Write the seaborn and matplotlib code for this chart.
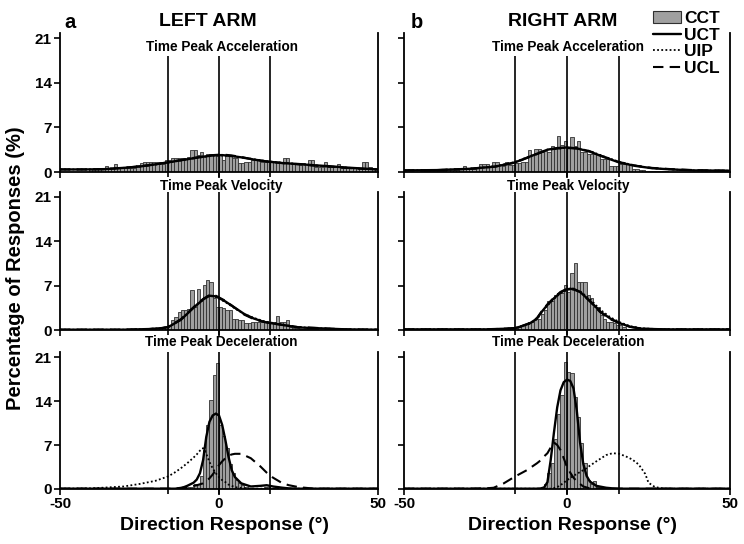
import numpy as np
import pandas as pd
import matplotlib
matplotlib.use("Agg")
import matplotlib.pyplot as plt
import seaborn as sns
from matplotlib.patches import Patch
from matplotlib.lines import Line2D

# ---- data (percentage of responses per 1 deg bin) ----
# bars start at the given left bin edge, one value per degree
acc_left_start = -41
acc_left_bars = [0.4, 0.4, 0.4, 0.5, 0.6, 0.9, 0.6, 0.6, 1.2, 0.7, 0.6, 0.7, 0.7, 0.6, 0.7,
                 1.1, 1.4, 1.6, 1.6, 1.6, 1.5, 1.5, 1.5, 1.3, 1.9, 1.9, 2.2, 2.2, 2.2, 2.2,
                 2.1, 2.3, 3.5, 3.5, 2.7, 3.1, 2.5, 2.8, 2.8, 2.9, 2.7, 2.7, 1.9, 2.7, 2.7,
                 2.2, 2.2, 1.4, 1.4, 1.6, 1.6, 1.9, 1.9, 1.9, 1.6, 1.6, 1.7, 1.6, 1.5, 1.6,
                 1.5, 2.2, 2.2, 1.4, 1.4, 1.3, 1.4, 1.4, 1.3, 1.9, 1.9, 0.8, 0.8, 0.8, 1.5,
                 0.8, 0.8, 0.8, 1.3, 0.7, 0.7, 0.7, 0.8, 0.7, 0.6, 0.7, 1.5, 1.5, 0.8, 0.5, 0.4]
acc_right_start = -45
acc_right_bars = [0.1, 0.1, 0.1, 0.1, 0.1, 0.2, 0.2, 0.2, 0.3, 0.3, 0.3, 0.3, 0.4, 0.9, 0.4,
                  0.4, 0.5, 0.6, 1.2, 1.2, 1.3, 1.0, 1.6, 1.5, 1.1, 1.0, 1.6, 1.1, 1.1, 1.4,
                  1.4, 1.5, 1.6, 3.4, 2.7, 3.6, 3.6, 3.2, 3.3, 3.2, 4.0, 3.8, 5.6, 4.3, 4.8,
                  3.7, 5.5, 4.0, 4.8, 3.2, 3.2, 2.9, 2.9, 2.8, 2.8, 2.0, 2.0, 2.0, 1.0, 1.0,
                  1.0, 1.2, 1.2, 1.2, 1.2, 0.5, 0.4, 0.3, 0.3, 0.2, 0.1, 0.1, 0.1, 0.1, 0.1, 0.1]
vel_left_start = -24
vel_left_bars = [0.1, 0.1, 0.2, 0.2, 0.3, 0.3, 0.4, 0.5, 0.8, 1.6, 2.1, 2.8, 3.2, 3.2, 3.3,
                 6.3, 3.7, 6.4, 4.5, 7.1, 7.9, 7.5, 5.0, 3.7, 3.7, 3.4, 3.2, 3.2, 1.8, 1.8,
                 1.6, 1.6, 1.05, 1.05, 1.3, 1.3, 1.3, 1.3, 1.3, 1.3, 1.3, 1.3, 2.2, 1.3, 1.3,
                 1.6, 0.4, 0.3, 0.3, 0.2, 0.2, 0.1, 0.1, 0.1, 0.1]
vel_right_start = -25
vel_right_bars = [0.1, 0.1, 0.1, 0.1, 0.1, 0.2, 0.2, 0.2, 0.3, 0.3, 0.5, 0.8, 1.0, 1.3, 1.3,
                  1.8, 1.8, 2.5, 3.2, 4.5, 4.5, 5.5, 5.8, 5.8, 7.1, 6.0, 9.0, 10.5, 7.6, 7.6,
                  7.6, 5.5, 5.0, 3.7, 3.7, 2.4, 1.8, 1.3, 1.3, 1.05, 0.8, 0.8, 0.4, 0.2, 0.2,
                  0.2, 0.1, 0.1, 0.1, 0.1, 0.1]
dec_left_start = -12
dec_left_bars = [0.2, 0.2, 0.3, 0.3, 0.8, 0.8, 2.0, 6.2, 10.2, 14.1, 18.1, 20.0, 10.2, 8.5,
                 6.5, 4.0, 2.5, 1.4, 0.9, 0.6, 0.3, 0.2, 0.2, 0.1, 0.1, 0.2, 0.3, 0.3, 0.2, 0.1]
dec_right_start = -9
dec_right_bars = [0.1, 0.2, 0.8, 2.5, 4.2, 8.0, 12.0, 15.0, 20.2, 18.6, 18.4, 14.7, 11.5,
                  7.3, 4.1, 1.4, 0.8, 1.2, 0.3, 0.2, 0.1]

# model curves (UCT solid, UIP dotted, UCL dashed)
acc_left_x = [-50, -42, -36, -30, -25, -20, -15, -10, -5, -2, 1, 4, 7, 11, 15, 20, 25, 30, 35, 40, 45, 50]
acc_left_uct = [0.4, 0.4, 0.45, 0.65, 0.85, 1.2, 1.6, 2.0, 2.4, 2.6, 2.65, 2.5, 2.3, 1.95, 1.65, 1.4, 1.25, 1.05, 0.9, 0.7, 0.55, 0.4]
acc_left_uip = [0.4, 0.4, 0.45, 0.65, 0.85, 1.15, 1.55, 2.0, 2.35, 2.55, 2.6, 2.5, 2.3, 2.0, 1.7, 1.45, 1.25, 1.05, 0.85, 0.7, 0.5, 0.4]
acc_left_ucl = [0.4, 0.4, 0.45, 0.65, 0.9, 1.2, 1.6, 2.05, 2.45, 2.65, 2.75, 2.6, 2.35, 1.95, 1.65, 1.4, 1.2, 1.0, 0.85, 0.65, 0.5, 0.4]

acc_right_x = [-50, -40, -30, -22, -16, -10, -6, -3, 0, 3, 7, 11, 16, 21, 26, 32, 39, 50]
acc_right_uct = [0.25, 0.3, 0.5, 0.85, 1.5, 2.7, 3.5, 3.75, 3.85, 3.7, 3.2, 2.4, 1.5, 0.95, 0.6, 0.4, 0.25, 0.2]
acc_right_uip = [0.25, 0.3, 0.5, 0.9, 1.55, 2.75, 3.5, 3.7, 3.8, 3.75, 3.3, 2.5, 1.6, 1.0, 0.6, 0.4, 0.25, 0.2]
acc_right_ucl = [0.25, 0.3, 0.5, 0.85, 1.45, 2.65, 3.45, 3.7, 3.75, 3.7, 3.25, 2.45, 1.55, 1.0, 0.65, 0.45, 0.3, 0.2]

vel_left_x = [-50, -30, -22, -18, -16, -12, -8, -5, -3, -1, 2, 5, 8, 11, 14, 16, 20, 25, 30, 35, 40, 50]
vel_left_uct = [0.05, 0.05, 0.15, 0.3, 0.45, 1.6, 3.5, 4.8, 5.4, 5.3, 4.5, 3.5, 2.5, 1.8, 1.3, 1.1, 0.8, 0.4, 0.3, 0.2, 0.1, 0.05]
vel_left_uip = [0.05, 0.05, 0.15, 0.3, 0.45, 1.6, 3.6, 4.9, 5.4, 5.2, 4.4, 3.4, 2.5, 1.9, 1.4, 1.2, 0.85, 0.45, 0.3, 0.2, 0.1, 0.05]
vel_left_ucl = [0.05, 0.05, 0.15, 0.3, 0.5, 1.7, 3.6, 4.9, 5.5, 5.4, 4.6, 3.5, 2.4, 1.7, 1.3, 1.1, 0.8, 0.45, 0.35, 0.2, 0.1, 0.05]

vel_right_x = [-50, -25, -19, -16, -14.5, -11.4, -9.2, -7.7, -6.1, -4, -2, 0, 1, 2, 4, 7.2, 10.2, 13.3, 16.3, 19.4, 23, 30, 50]
vel_right_uct = [0.1, 0.1, 0.2, 0.3, 0.5, 1.05, 1.8, 2.9, 3.9, 5.0, 5.9, 6.4, 6.5, 6.4, 6.0, 4.5, 2.9, 1.8, 1.05, 0.5, 0.2, 0.1, 0.1]
vel_right_uip = [0.1, 0.1, 0.2, 0.3, 0.5, 1.0, 1.7, 2.8, 3.8, 4.9, 5.8, 6.3, 6.4, 6.4, 6.1, 4.8, 3.2, 2.0, 1.2, 0.6, 0.25, 0.1, 0.1]
vel_right_ucl = [0.1, 0.1, 0.2, 0.3, 0.5, 1.1, 1.9, 3.0, 4.0, 5.1, 6.0, 6.5, 6.6, 6.5, 6.0, 4.4, 2.8, 1.7, 1.0, 0.5, 0.2, 0.1, 0.1]

dec_left_x = [-50, -40, -30, -25, -20, -16, -14, -12, -10, -8, -7, -6, -5, -4, -3, -2, -1, 0, 1, 2,
              3, 4, 5, 7, 10, 13, 15, 17, 20, 22, 25, 30, 40, 50]
dec_left_uct = [0.05, 0.05, 0.05, 0.05, 0.05, 0.05, 0.05, 0.1, 0.5, 1.0, 1.5, 2.5, 4.6, 8.3, 10.7, 11.7, 12.0, 11.7, 10.2, 7.8,
                5.1, 3.0, 1.9, 0.9, 0.4, 0.5, 0.6, 0.4, 0.2, 0.1, 0.05, 0.05, 0.05, 0.05]
dec_left_uip = [0.05, 0.1, 0.4, 0.8, 1.3, 2.0, 2.6, 3.3, 4.1, 5.0, 5.5, 6.1, 6.5, 5.6, 4.3, 3.3, 2.5, 1.9, 1.4, 1.1,
                0.7, 0.5, 0.3, 0.15, 0.05, 0.05, 0.05, 0.05, 0.05, 0.05, 0.05, 0.05, 0.05, 0.05]
dec_left_ucl = [0.05, 0.05, 0.05, 0.05, 0.05, 0.05, 0.05, 0.2, 0.3, 0.5, 0.6, 0.75, 0.9, 1.3, 1.7, 2.3, 3.0, 3.8, 4.4, 4.9,
                5.3, 5.5, 5.6, 5.6, 4.9, 3.6, 2.6, 1.8, 0.9, 0.6, 0.3, 0.05, 0.05, 0.05]

dec_right_x = [-50, -40, -30, -25, -22.5, -19.4, -15.9, -12.3, -9.2, -8, -7, -6, -5, -4, -3, -2, -1, 0, 1, 2,
               3, 4, 5, 6, 7, 9, 12, 14, 16, 18, 20, 22, 24, 25, 27, 30, 40, 50]
dec_right_uct = [0.05, 0.05, 0.05, 0.05, 0.05, 0.05, 0.05, 0.05, 0.05, 0.1, 0.25, 1.1, 4.6, 9.0, 13.0, 15.7, 17.0, 17.4, 17.2, 16.0,
                 12.5, 7.4, 4.0, 2.1, 1.2, 0.5, 0.2, 0.1, 0.05, 0.05, 0.05, 0.05, 0.05, 0.05, 0.05, 0.05, 0.05, 0.05]
dec_right_uip = [0.05, 0.05, 0.05, 0.05, 0.05, 0.05, 0.05, 0.05, 0.05, 0.05, 0.05, 0.05, 0.05, 0.15, 0.3, 0.6, 1.0, 1.4, 1.75, 2.1,
                 2.4, 2.7, 3.0, 3.3, 3.7, 4.4, 5.4, 5.7, 5.6, 5.2, 4.7, 3.9, 2.4, 1.0, 0.3, 0.05, 0.05, 0.05]
dec_right_ucl = [0.05, 0.05, 0.05, 0.1, 0.2, 0.9, 2.0, 3.0, 4.1, 4.6, 5.2, 5.7, 6.6, 7.4, 7.0, 6.2, 4.9, 3.5, 2.6, 1.8,
                 1.2, 0.8, 0.4, 0.25, 0.1, 0.05, 0.05, 0.05, 0.05, 0.05, 0.05, 0.05, 0.05, 0.05, 0.05, 0.05, 0.05, 0.05]

row_titles = ["Time Peak Acceleration", "Time Peak Velocity", "Time Peak Deceleration"]
ref_lines = [-16, 0, 16]
y_ticks = [0, 7, 14, 21]
x_ticks = [-50, 0, 50]

panels = [
    [(acc_left_start, acc_left_bars, acc_left_x, acc_left_uct, acc_left_uip, acc_left_ucl),
     (acc_right_start, acc_right_bars, acc_right_x, acc_right_uct, acc_right_uip, acc_right_ucl)],
    [(vel_left_start, vel_left_bars, vel_left_x, vel_left_uct, vel_left_uip, vel_left_ucl),
     (vel_right_start, vel_right_bars, vel_right_x, vel_right_uct, vel_right_uip, vel_right_ucl)],
    [(dec_left_start, dec_left_bars, dec_left_x, dec_left_uct, dec_left_uip, dec_left_ucl),
     (dec_right_start, dec_right_bars, dec_right_x, dec_right_uct, dec_right_uip, dec_right_ucl)],
]

# ---- style ----
sns.set_style("white")
plt.rcParams["font.family"] = ["Liberation Sans", "DejaVu Sans"]
plt.rcParams["font.weight"] = "bold"
for key in ["text.color", "axes.labelcolor", "xtick.color", "ytick.color"]:
    plt.rcParams[key] = "black"

W, H = 744, 544
fig = plt.figure(figsize=(W / 100, H / 100), dpi=100)

# axes boxes in pixels (left, width) and (top, bottom)
cols = [(60, 318), (404, 326)]
rows = [(33, 172), (191.6, 330), (352, 489)]
title_y = [47, 186, 342]
title_x = [221.7, 568]
ymax = 21.8
line_tops = [18.2, ymax, ymax]

bar_color = "#a0a0a0"
bar_edge = "#303030"
line_styles = {"UCT": dict(linestyle="-", linewidth=1.7),
               "UIP": dict(linestyle=(0, (1, 1.3)), linewidth=1.3),
               "UCL": dict(linestyle=(0, (5, 3)), linewidth=1.5)}

for r, (top, bottom) in enumerate(rows):
    for c, (left, width) in enumerate(cols):
        ax = fig.add_axes([left / W, 1 - bottom / H, width / W, (bottom - top) / H])
        start, bars, cx, uct, uip, ucl = panels[r][c]
        hist_df = pd.DataFrame({"deg": start + np.arange(len(bars)) + 0.5, "pct": bars})
        sns.histplot(data=hist_df, x="deg", weights="pct", bins=list(range(-50, 51)), ax=ax,
                     color=bar_color, edgecolor=bar_edge, linewidth=0.6, alpha=1, zorder=2)
        for name, ys in (("UCL", ucl), ("UIP", uip), ("UCT", uct)):
            sns.lineplot(x=cx, y=ys, ax=ax, color="black", zorder=4, **line_styles[name])
        ax.vlines(ref_lines, -0.8, line_tops[r], color="black", linewidth=1.2, zorder=3, clip_on=False)

        ax.set_xlim(-50, 50)
        ax.set_ylim(0, ymax)
        ax.set_xlabel("")
        ax.set_ylabel("")
        ax.set_yticks(y_ticks)
        ax.set_xticks(x_ticks)
        for side in ["left", "right", "bottom"]:
            ax.spines[side].set_visible(True)
            ax.spines[side].set_color("black")
            ax.spines[side].set_linewidth(1.3)
        ax.spines["top"].set_visible(False)
        ax.tick_params(axis="both", direction="out", length=4, width=1.2, color="black",
                       labelsize=11, pad=2, left=True, bottom=True)
        if c == 1:
            ax.set_yticklabels([])
        else:
            ax.set_yticklabels([str(t) for t in y_ticks], fontweight="bold")
        if r < 2:
            ax.set_xticklabels([])
        else:
            ax.set_xticklabels([str(t) for t in x_ticks], fontweight="bold")

        fig.text(title_x[c] / W, 1 - title_y[r] / H, row_titles[r], ha="center", va="center",
                 fontsize=9.8, fontweight="bold")

# headers
fig.text(70 / W, 1 - 22 / H, "a", ha="center", va="center", fontsize=14.5, fontweight="bold")
fig.text(208 / W, 1 - 22 / H, "LEFT ARM", ha="center", va="center", fontsize=14, fontweight="bold")
fig.text(417 / W, 1 - 22 / H, "b", ha="center", va="center", fontsize=14.5, fontweight="bold")
fig.text(563 / W, 1 - 22 / H, "RIGHT ARM", ha="center", va="center", fontsize=14, fontweight="bold")

fig.text(16 / W, 1 - 268 / H, "Percentage of Responses (%)", rotation=90, ha="center", va="center",
         fontsize=14.5, fontweight="bold")
fig.text(225 / W, 1 - 525 / H, "Direction Response (°)", ha="center", va="center", fontsize=14, fontweight="bold")
fig.text(572 / W, 1 - 525 / H, "Direction Response (°)", ha="center", va="center", fontsize=14, fontweight="bold")

handles = [Patch(facecolor=bar_color, edgecolor=bar_edge, linewidth=0.8),
           Line2D([], [], color="black", **line_styles["UCT"]),
           Line2D([], [], color="black", **line_styles["UIP"]),
           Line2D([], [], color="black", **line_styles["UCL"])]
fig.legend(handles, ["CCT", "UCT", "UIP", "UCL"], loc="upper right", bbox_to_anchor=(720 / W, 1 - 11 / H),
           frameon=False, prop={"weight": "bold", "size": 12.5}, handlelength=1.6, handletextpad=0.2,
           labelspacing=0.08, borderpad=0, borderaxespad=0)

fig.savefig("out.png", dpi=100)
